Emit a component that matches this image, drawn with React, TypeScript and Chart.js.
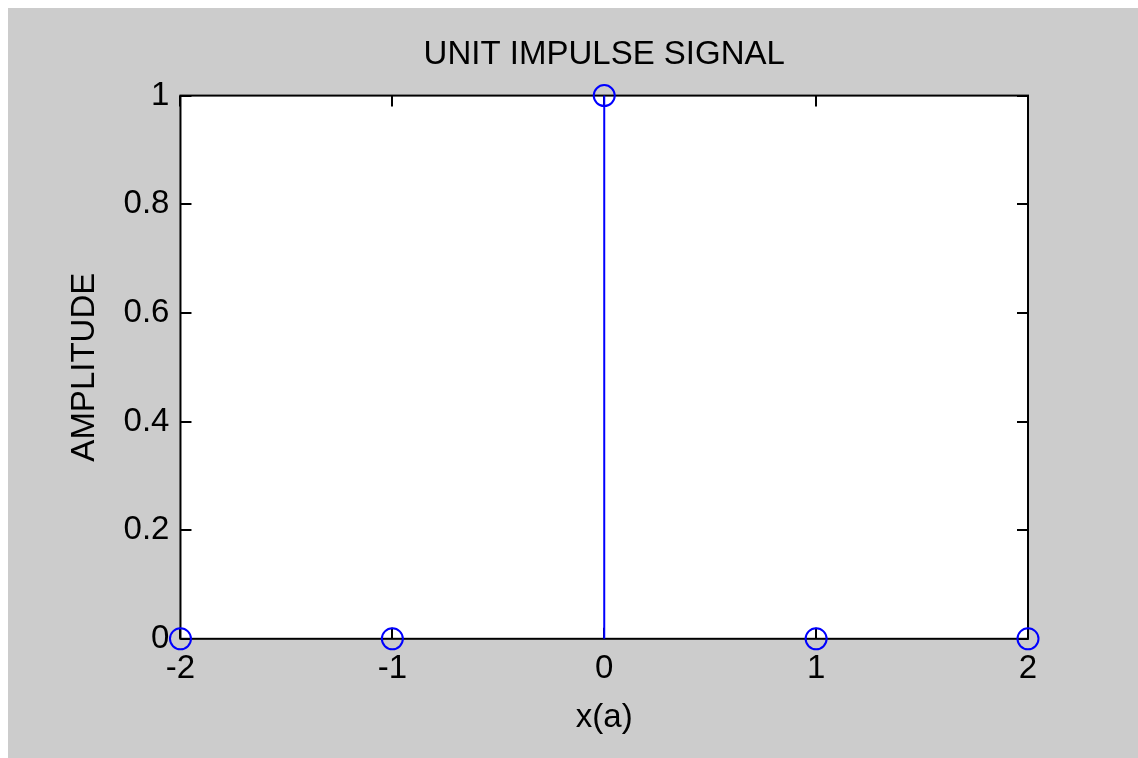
import React, { useEffect, useRef } from "react";
import { Chart, registerables } from "chart.js";

Chart.register(...registerables);

const nValues = [-2, -1, 0, 1, 2];
const amplitudes = [0, 0, 1, 0, 0];
const xTickValues = [-2, -1, 0, 1, 2];
const yTickValues = [0, 0.2, 0.4, 0.6, 0.8, 1];
const titleText = "UNIT IMPULSE SIGNAL";
const xLabel = "x(a)";
const yLabel = "AMPLITUDE";

const FONT = "'Liberation Sans', Arial, Helvetica, sans-serif";
const BLUE = "#0000ff";

const framePlugin = {
  id: "framePlugin",
  beforeDraw(chart: any) {
    const { ctx, chartArea, width, height } = chart;
    ctx.save();
    ctx.fillStyle = "#ffffff";
    ctx.fillRect(0, 0, width, height);
    ctx.fillStyle = "#cccccc";
    ctx.fillRect(8, 8, width - 8, height - 8);
    ctx.fillStyle = "#ffffff";
    ctx.fillRect(chartArea.left, chartArea.top, chartArea.right - chartArea.left, chartArea.bottom - chartArea.top);
    ctx.restore();
  },
  beforeDatasetsDraw(chart: any) {
    const { ctx, chartArea } = chart;
    const xs = chart.scales.x;
    const ys = chart.scales.y;
    const tl = 11;
    ctx.save();
    ctx.strokeStyle = "#000000";
    ctx.lineWidth = 2;
    ctx.beginPath();
    for (const v of xTickValues) {
      const px = Math.round(xs.getPixelForValue(v));
      ctx.moveTo(px, chartArea.bottom);
      ctx.lineTo(px, chartArea.bottom - tl);
      ctx.moveTo(px, chartArea.top);
      ctx.lineTo(px, chartArea.top + tl);
    }
    for (const v of yTickValues) {
      const py = Math.round(ys.getPixelForValue(v));
      ctx.moveTo(chartArea.left, py);
      ctx.lineTo(chartArea.left + tl, py);
      ctx.moveTo(chartArea.right, py);
      ctx.lineTo(chartArea.right - tl, py);
    }
    ctx.stroke();
    ctx.strokeRect(chartArea.left, chartArea.top, chartArea.right - chartArea.left, chartArea.bottom - chartArea.top);
    ctx.restore();
  },
};

export default function App() {
  const canvasRef = useRef<HTMLCanvasElement | null>(null);

  useEffect(() => {
    document.body.style.margin = "0";
    document.body.style.overflow = "hidden";
    const canvas = canvasRef.current;
    if (!canvas) return;

    const stemData: any[] = [];
    nValues.forEach((n, i) => {
      stemData.push({ x: n, y: 0 });
      stemData.push({ x: n, y: amplitudes[i] });
      stemData.push({ x: n, y: null });
    });
    const pointData = nValues.map((n, i) => ({ x: n, y: amplitudes[i] }));

    const chart = new Chart(canvas, {
      type: "scatter",
      data: {
        datasets: [
          {
            label: "stems",
            data: stemData,
            showLine: true,
            spanGaps: false,
            borderColor: BLUE,
            borderWidth: 2,
            pointRadius: 0,
            clip: false as any,
          } as any,
          {
            label: "points",
            data: pointData,
            showLine: false,
            pointRadius: 10.5,
            pointBorderWidth: 2,
            pointBorderColor: BLUE,
            pointBackgroundColor: "rgba(0,0,0,0)",
            clip: false as any,
          } as any,
        ],
      },
      options: {
        animation: false,
        responsive: false,
        maintainAspectRatio: false,
        layout: { padding: { left: 8, right: 110, top: 8, bottom: 0 } },
        plugins: {
          legend: { display: false },
          tooltip: { enabled: false },
          title: {
            display: true,
            fullSize: false,
            text: titleText,
            color: "#000000",
            font: { family: FONT, size: 33, weight: "normal" as any },
            padding: { top: 27, bottom: 21 },
          },
        },
        scales: {
          x: {
            type: "linear",
            min: -2,
            max: 2,
            afterBuildTicks: (scale: any) => {
              scale.ticks = xTickValues.map((v) => ({ value: v }));
            },
            grid: { display: false, drawTicks: false },
            border: { display: false },
            ticks: {
              color: "#000000",
              font: { family: FONT, size: 33 },
              padding: 10,
              maxRotation: 0,
              autoSkip: false,
              callback: (v: any) => String(v),
            },
            title: {
              display: true,
              text: xLabel,
              color: "#000000",
              font: { family: FONT, size: 33 },
              padding: { top: 0, bottom: 20 },
            },
          },
          y: {
            type: "linear",
            min: 0,
            max: 1,
            afterBuildTicks: (scale: any) => {
              scale.ticks = yTickValues.map((v) => ({ value: v }));
            },
            grid: { display: false, drawTicks: false },
            border: { display: false },
            ticks: {
              color: "#000000",
              font: { family: FONT, size: 33 },
              padding: 11,
              autoSkip: false,
              callback: (v: any) => String(Math.round(Number(v) * 10) / 10),
            },
            title: {
              display: true,
              text: yLabel,
              color: "#000000",
              font: { family: FONT, size: 33 },
              padding: { top: 57, bottom: 8 },
            },
          },
        },
      },
      plugins: [framePlugin],
    });

    return () => chart.destroy();
  }, []);

  return (
    <div style={{ width: 1138, height: 758 }}>
      <canvas ref={canvasRef} width={1138} height={758} style={{ display: "block", width: 1138, height: 758 }} />
    </div>
  );
}
